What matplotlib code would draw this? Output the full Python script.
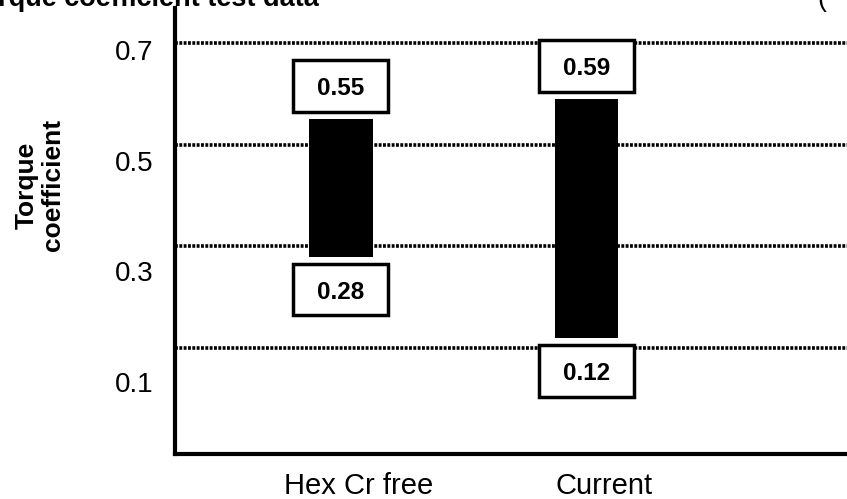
import matplotlib.pyplot as plt
import matplotlib.transforms as mtransforms
from matplotlib.patches import Rectangle
import numpy as np

plt.rcParams['font.family'] = ['Liberation Sans', 'DejaVu Sans']

# data
categories = ["Hex Cr free", "Current"]
low_vals = [0.28, 0.12]
high_vals = [0.55, 0.59]
yticks = [0.1, 0.3, 0.5, 0.7]
title = "Torque coefficient test data"
ylabel = "Torque\ncoefficient"

fig = plt.figure(figsize=(8.47, 4.99), dpi=100)
ax = fig.add_axes([0.2066, 0.0902, 0.7934, 0.8938])

x = np.arange(len(categories))
low = np.array(low_vals)
high = np.array(high_vals)

# range bars
ax.bar(x, high - low, bottom=low, width=0.26, color='black', zorder=3)

ax.set_xlim(-0.676, 2.061)
ax.set_ylim(-0.1085, 0.769)

# dotted horizontal grid
ax.set_yticks(yticks)
ax.yaxis.grid(True, color='black', linewidth=2.6, linestyle=(0, (0.8, 0.4)))
ax.set_axisbelow(True)
ax.tick_params(axis='y', length=0, labelleft=False)
ax.set_xticks([])

for side in ['top', 'right']:
    ax.spines[side].set_visible(False)
for side in ['left', 'bottom']:
    ax.spines[side].set_linewidth(3)
    ax.spines[side].set_color('black')

# value boxes above / below each bar
box_w = 0.387
box_h = 0.102
gap = 0.065
for xi, lo, hi in zip(x, low, high):
    for v, sign in [(hi, 1), (lo, -1)]:
        yc = v + sign * gap
        ax.add_patch(Rectangle((xi - box_w / 2, yc - box_h / 2), box_w, box_h,
                               facecolor='white', edgecolor='black',
                               linewidth=2.5, zorder=4))
        ax.text(xi, yc, f"{v:.2f}", ha='center', va='center_baseline',
                fontsize=17.5, fontweight='bold', zorder=5)

# tick labels sit a little off the grid in the scan, so they get their own scale
ax2 = ax.twinx()
ax2.set_ylim(-0.0302, 0.7759)
ax2.set_yticks(yticks)
ax2.set_yticklabels([f"{t:.1f}" for t in yticks])
ax2.yaxis.tick_left()
ax2.tick_params(axis='y', length=0, pad=15.8, labelsize=20)
for s in ax2.spines.values():
    s.set_visible(False)

# category labels
trans = mtransforms.offset_copy(ax.get_xaxis_transform(), fig=fig, x=18, y=-40, units='dots')
for xi, name in zip(x, categories):
    ax.text(xi, 0, name, transform=trans, ha='center', va='baseline', fontsize=21)

fig.text(40 / 847, 1 - 185 / 499, ylabel, rotation=90, ha='center', va='center',
         multialignment='center', fontsize=19, fontweight='bold', linespacing=1.15)

# cut-off heading along the top edge of the scan
fig.text(-33 / 847, 1 - 6 / 499, title, ha='left', va='baseline',
         fontsize=19.5, fontweight='bold')
fig.text(817 / 847, 1 - 6 / 499, "(", ha='left', va='baseline', fontsize=19.5)

fig.savefig("out.png", dpi=100)
